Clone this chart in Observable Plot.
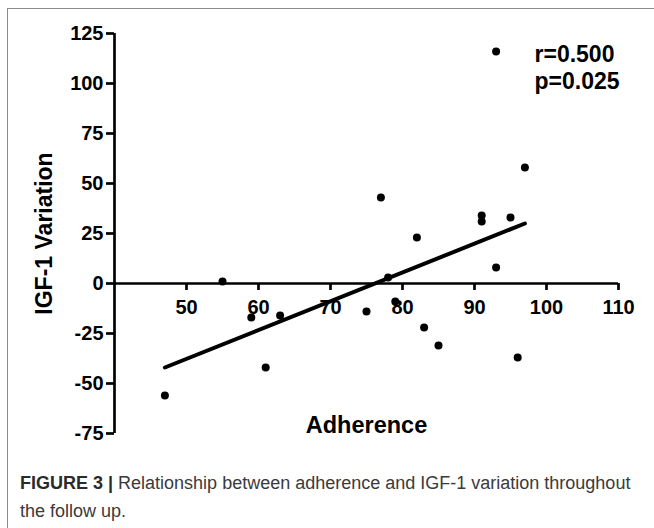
<!DOCTYPE html>
<html>
<head>
<meta charset="utf-8">
<script src="https://cdn.jsdelivr.net/npm/d3@7"></script>
<script src="https://cdn.jsdelivr.net/npm/@observablehq/plot@0.6"></script>
<style>
  html, body { margin: 0; padding: 0; background: #fff; }
  body { width: 654px; height: 528px; position: relative; overflow: hidden; font-family: "Liberation Sans", Arial, sans-serif; }
  #frame { position: absolute; left: 7px; top: 8px; width: 660px; height: 540px; border-top: 1.5px solid #8a8a8a; border-left: 1.5px solid #8a8a8a; }
  #chart { position: absolute; left: 0; top: 0; }
  #caption { position: absolute; left: 20px; top: 469px; width: 622px; font-size: 18px; line-height: 28px; color: #3a3a3a; margin: 0; }
  #caption .fig { font-weight: bold; color: #2a2a2a; margin-right: 5px; }
</style>
</head>
<body>
<div id="frame"></div>
<div id="chart"></div>
<p id="caption"><span class="fig">FIGURE 3 |</span>Relationship between adherence and IGF-1 variation throughout the follow up.</p>
<script>
// Data
const adherence    = [47, 55, 59, 61, 63, 75, 77, 78, 79, 82, 83, 85, 91, 91, 93, 93, 95, 96, 97];
const igfVariation = [-56, 1, -17, -42, -16, -14, 43, 3, -9, 23, -22, -31, 34, 31, 116, 8, 33, -37, 58];
const fitAdherence = [47, 97];
const fitVariation = [-42, 30];
const xTicks = [50, 60, 70, 80, 90, 100, 110];
const yTicks = [-75, -50, -25, 0, 25, 50, 75, 100, 125];
const statLabels = ["r=0.500", "p=0.025"];
const xLabel = "Adherence";
const yLabel = "IGF-1 Variation";

const points = adherence.map((a, i) => ({a, v: igfVariation[i]}));
const fit = fitAdherence.map((a, i) => ({a, v: fitVariation[i]}));

const chart = Plot.plot({
  width: 654,
  height: 465,
  marginLeft: 114,
  marginRight: 36,
  marginTop: 33,
  marginBottom: 32,
  style: {fontFamily: "'Liberation Sans', Arial, sans-serif", fontWeight: "bold", color: "black", background: "transparent"},
  x: {domain: [40, 110], axis: null},
  y: {domain: [-75, 125], axis: null},
  marks: [
    Plot.axisY(yTicks, {tickSize: 8, tickPadding: 3, strokeWidth: 2.7, fontSize: 20, tickFormat: d => String(d), label: null}),
    Plot.ruleX([40], {strokeWidth: 2.7}),
    Plot.ruleY([0], {strokeWidth: 2.7}),
    Plot.ruleX(xTicks, {x: d => d, y1: 0, y2: 0, insetBottom: -7, strokeWidth: 2.7}),
    Plot.text(xTicks, {x: d => d, y: 0, dy: 24, text: d => String(d), fontSize: 20}),
    Plot.line(fit, {x: "a", y: "v", strokeWidth: 4, stroke: "black"}),
    Plot.dot(points, {x: "a", y: "v", r: 4, fill: "black", stroke: null}),
    Plot.text([statLabels.join("\n")], {frameAnchor: "top-right", textAnchor: "start", lineAnchor: "top", dx: -84, dy: 9, lineHeight: 1.17, fontSize: 23}),
    Plot.text([xLabel], {frameAnchor: "bottom", lineAnchor: "middle", dy: -8.5, fontSize: 23.5}),
    Plot.text([yLabel], {frameAnchor: "left", textAnchor: "middle", lineAnchor: "middle", rotate: -90, dx: -70, fontSize: 23})
  ]
});
document.getElementById("chart").appendChild(chart);
</script>
</body>
</html>
